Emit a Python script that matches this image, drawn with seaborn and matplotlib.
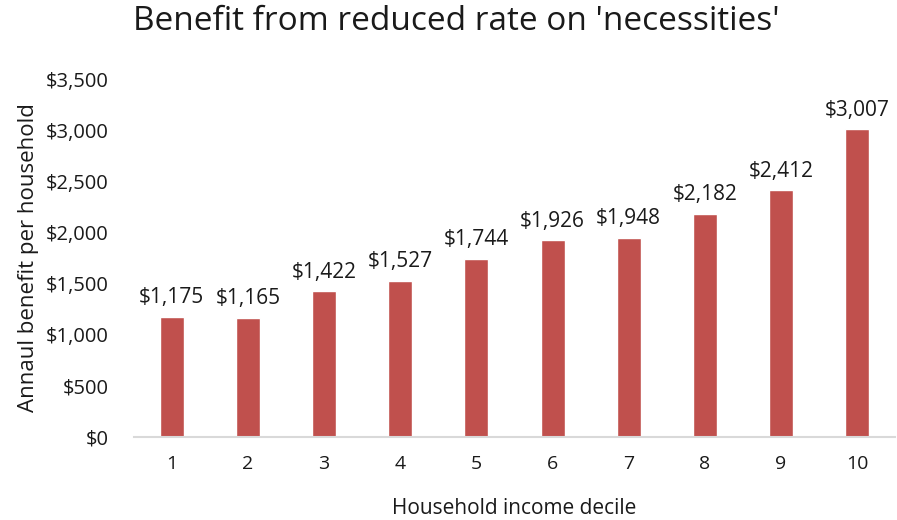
import pandas as pd
from matplotlib import pyplot as plt
import seaborn as sns

# Household income deciles and the annual benefit per household (USD)
deciles = ["1", "2", "3", "4", "5", "6", "7", "8", "9", "10"]
benefit = [1175, 1165, 1422, 1527, 1744, 1926, 1948, 2182, 2412, 3007]
y_ticks = [0, 500, 1000, 1500, 2000, 2500, 3000, 3500]

bar_color = "#C0504D"
text_color = "#1a1a1a"

sns.set_theme(style="white")
plt.rcParams["font.family"] = ["Open Sans", "DejaVu Sans"]

data = pd.DataFrame({"decile": deciles, "benefit": benefit})

f = plt.figure(figsize=(8.97, 5.2), dpi=100)
ax = f.add_axes([0.149, 0.160, 0.849, 0.688])
sns.barplot(data=data, x="decile", y="benefit", color=bar_color, saturation=1,
            width=0.315, ax=ax)

ax.set_ylim(0, 3500)
ax.set_yticks(y_ticks)
ax.set_yticklabels(["${:,}".format(v) for v in y_ticks], fontsize=14.5, color=text_color)
ax.tick_params(axis="x", labelsize=14, labelcolor=text_color, pad=13)
ax.tick_params(axis="y", pad=18, length=0)
ax.tick_params(axis="x", length=0)

for s in ["top", "right", "left"]:
    ax.spines[s].set_visible(False)
ax.spines["bottom"].set_color("#d9d9d9")
ax.spines["bottom"].set_linewidth(1.5)

# value labels above bars
for i, v in enumerate(benefit):
    ax.annotate("${:,}".format(v), (i, v), xytext=(0, 6), textcoords="offset points",
                ha="center", va="bottom", fontsize=15, color=text_color)

ax.set_xlabel("Household income decile", fontsize=15, color=text_color, labelpad=18)
ax.set_ylabel("Annaul benefit per household", fontsize=16, color=text_color, labelpad=5)
f.suptitle("Benefit from reduced rate on 'necessities'", fontsize=24, color=text_color,
           x=0.509, y=0.99)

f.savefig("out.png", dpi=100)
